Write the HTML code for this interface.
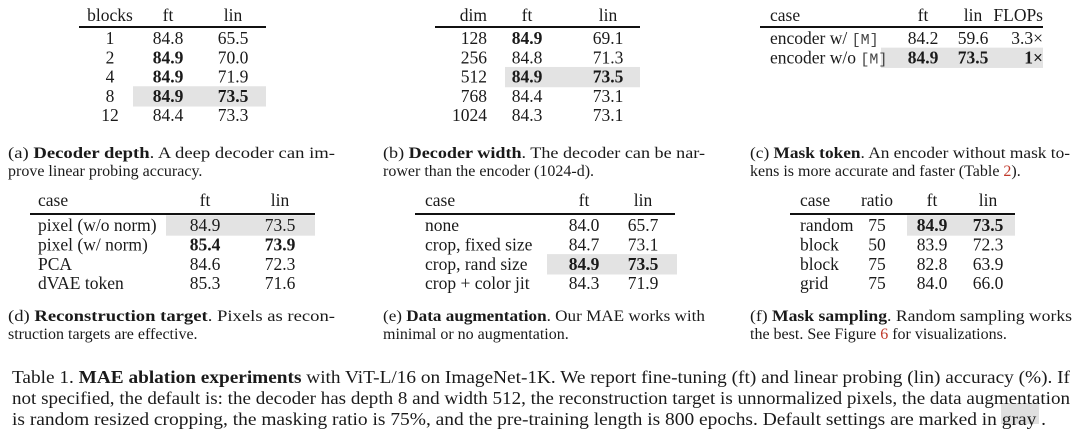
<!DOCTYPE html>
<html><head><meta charset="utf-8"><style>
html,body{margin:0;padding:0;background:#fff;}
svg{display:block;font-family:"Liberation Serif",serif;}
text{fill:#1a1a1a;}
.mono{font-family:"Liberation Mono",monospace;font-size:15px;fill:#444;}
</style></head><body>
<svg id="s" width="1080" height="440" viewBox="0 0 1080 440" xmlns="http://www.w3.org/2000/svg"></svg>
<script>
const NS="http://www.w3.org/2000/svg";
const svg=document.getElementById('s');
function el(tag,attrs,txt,parent){const e=document.createElementNS(NS,tag);for(const k in attrs)e.setAttribute(k,attrs[k]);if(txt!=null)e.textContent=txt;(parent||svg).appendChild(e);return e;}

const tA_head=["blocks","ft","lin"];
const tA_rows=[["1","84.8","65.5"],["2","84.9","70.0"],["4","84.9","71.9"],["8","84.9","73.5"],["12","84.4","73.3"]];
const tA_bold=[[0,0,0],[0,1,0],[0,1,0],[0,1,1],[0,0,0]];
const tB_head=["dim","ft","lin"];
const tB_rows=[["128","84.9","69.1"],["256","84.8","71.3"],["512","84.9","73.5"],["768","84.4","73.1"],["1024","84.3","73.1"]];
const tB_bold=[[0,1,0],[0,0,0],[0,1,1],[0,0,0],[0,0,0]];
const tC_head=["case","ft","lin","FLOPs"];
const tC_rows=[["encoder w/ [M]","84.2","59.6","3.3×"],["encoder w/o [M]","84.9","73.5","1×"]];
const tC_bold=[[0,0,0,0],[0,1,1,1]];
const tD_head=["case","ft","lin"];
const tD_rows=[["pixel (w/o norm)","84.9","73.5"],["pixel (w/ norm)","85.4","73.9"],["PCA","84.6","72.3"],["dVAE token","85.3","71.6"]];
const tD_bold=[[0,0,0],[0,1,1],[0,0,0],[0,0,0]];
const tE_head=["case","ft","lin"];
const tE_rows=[["none","84.0","65.7"],["crop, fixed size","84.7","73.1"],["crop, rand size","84.9","73.5"],["crop + color jit","84.3","71.9"]];
const tE_bold=[[0,0,0],[0,0,0],[0,1,1],[0,0,0]];
const tF_head=["case","ratio","ft","lin"];
const tF_rows=[["random","75","84.9","73.5"],["block","50","83.9","72.3"],["block","75","82.8","63.9"],["grid","75","84.0","66.0"]];
const tF_bold=[[0,0,1,1],[0,0,0,0],[0,0,0,0],[0,0,0,0]];

const FS=17.5;
function table(name,head,rows,bold,o){
  const g=el('g',{});
  
  
  el('rect',{x:o.gx0,y:o.y0+o.gray*o.rh-o.rh/2,width:o.gx1-o.gx0,height:o.rh+1,fill:'#e3e3e3'},null,g);
  head.forEach((h,j)=>{el('text',{x:o.cx[j],y:o.hy+6,'font-size':FS,'text-anchor':o.an[j]},h,g);});
  const ln=el('line',{x1:o.lx0,x2:o.lx1,y1:o.ly,y2:o.ly,stroke:'#111','stroke-width':2},null,g);
  
  rows.forEach((r,i)=>{r.forEach((c,j)=>{
    const y=o.y0+i*o.rh+6;
    const m=c.match(/^(.*?)(\[M\])$/);
    const t=el('text',{x:o.cx[j],y:y,'font-size':FS,'text-anchor':o.an[j],'font-weight':bold[i][j]?'bold':'normal'},m?m[1]:c,g);
    if(m){el('tspan',{class:'mono'},m[2],t);}
  });});
}
table('table-decoder-depth',tA_head,tA_rows,tA_bold,{cx:[110,168,233],an:['middle','middle','middle'],hy:15,ly:27,lx0:79,lx1:266,y0:38,rh:19.3,gray:3,gx0:133,gx1:266});
table('table-decoder-width',tB_head,tB_rows,tB_bold,{cx:[487,527,608],an:['end','middle','middle'],hy:15,ly:27,lx0:435,lx1:640,y0:38,rh:19.3,gray:2,gx0:505,gx1:640});
table('table-mask-token',tC_head,tC_rows,tC_bold,{cx:[770,923,973,1043],an:['start','middle','middle','end'],hy:15,ly:27,lx0:760,lx1:1043,y0:38,rh:19.3,gray:1,gx0:881,gx1:1043});
table('table-reconstruction-target',tD_head,tD_rows,tD_bold,{cx:[38,205,280],an:['start','middle','middle'],hy:200,ly:214,lx0:30,lx1:315,y0:225,rh:19.4,gray:0,gx0:166,gx1:315});
table('table-data-augmentation',tE_head,tE_rows,tE_bold,{cx:[425,584,643],an:['start','middle','middle'],hy:200,ly:214,lx0:415,lx1:675,y0:225,rh:19.4,gray:2,gx0:547,gx1:677});
table('table-mask-sampling',tF_head,tF_rows,tF_bold,{cx:[800,877,932,988],an:['start','middle','middle','middle'],hy:200,ly:214,lx0:790,lx1:1015,y0:225,rh:19.4,gray:0,gx0:907,gx1:1015});

function cap(name,x,y,w,parts,y2,line2){
  const t=el('text',{x:x,y:y,'font-size':16,textLength:w,lengthAdjust:'spacingAndGlyphs'});
  
  
  parts.forEach(p=>{el('tspan',p[1]?{'font-weight':'bold'}:{},p[0],t);});
  const t2=el('text',{x:x,y:y2,'font-size':16},line2);
  
  
  return t2;
}
cap('caption-a',8,158,327,[["(a) ",0],["Decoder depth",1],[".  A deep decoder can im-",0]],176,"prove linear probing accuracy.");
cap('caption-b',383,158,322,[["(b) ",0],["Decoder width",1],[".  The decoder can be nar-",0]],176,"rower than the encoder (1024-d).");
const c2=cap('caption-c',750,158,320,[["(c) ",0],["Mask token",1],[". An encoder without mask to-",0]],176,"");
c2.textContent="kens is more accurate and faster (Table ";
el('tspan',{style:'fill:#c0392b'},"2",c2);el('tspan',{},").",c2);
cap('caption-d',8,321,327,[["(d) ",0],["Reconstruction target",1],[".  Pixels as recon-",0]],339,"struction targets are effective.");
cap('caption-e',383,321,322,[["(e) ",0],["Data augmentation",1],[". Our MAE works with",0]],339,"minimal or no augmentation.");
const c6=cap('caption-f',750,321,322,[["(f) ",0],["Mask sampling",1],[".  Random sampling works",0]],339,"");
c6.textContent="the best. See Figure ";
el('tspan',{style:'fill:#c0392b'},"6",c6);el('tspan',{}," for visualizations.",c6);

el('rect',{x:1001,y:403,width:38,height:21,fill:'#e0e0e0'});
const L=[[["Table 1. ",0],["MAE ablation experiments",1],[" with ViT-L/16 on ImageNet-1K. We report fine-tuning (ft) and linear probing (lin) accuracy (%). If",0]],
[["not specified, the default is: the decoder has depth 8 and width 512, the reconstruction target is unnormalized pixels, the data augmentation",0]],
[["is random resized cropping, the masking ratio is 75%, and the pre-training length is 800 epochs. Default settings are marked in ",0],[" gray ",0],[".",0]]];
const LW=[1058,1058,1034];
L.forEach((parts,i)=>{
  const t=el('text',{x:12,y:383+i*21,'font-size':18,textLength:LW[i],lengthAdjust:'spacingAndGlyphs'});
  
  
  parts.forEach(p=>el('tspan',p[1]?{'font-weight':'bold'}:{},p[0],t));
});
</script>
</body></html>
